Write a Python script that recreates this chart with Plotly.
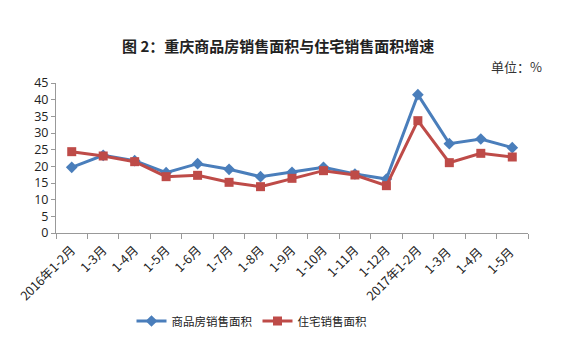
import plotly.graph_objects as go

categories = ["2016年1-2月", "1-3月", "1-4月", "1-5月", "1-6月", "1-7月", "1-8月", "1-9月",
              "1-10月", "1-11月", "1-12月", "2017年1-2月", "1-3月 ", "1-4月 ", "1-5月 "]
commercial = [19.7, 23.3, 21.7, 18.1, 20.8, 19.1, 16.9, 18.2, 19.7, 17.7, 16.2, 41.5, 26.8, 28.2, 25.6]
residential = [24.4, 23.1, 21.4, 16.9, 17.3, 15.2, 13.9, 16.4, 18.7, 17.4, 14.2, 33.7, 21.1, 23.9, 22.8]
y_ticks = [0, 5, 10, 15, 20, 25, 30, 35, 40, 45]

L, R, T, B = 56, 51, 83, 118
W, H = 579, 351
pw = W - L - R
ph = H - T - B


def px(x):
    return (x - L) / pw


def py(y):
    return (H - B - y) / ph


fig = go.Figure()
fig.add_trace(go.Scatter(x=categories, y=commercial, name="商品房销售面积", mode="lines+markers",
                         line=dict(color="#4A7EBB", width=3),
                         marker=dict(symbol="diamond", size=9, color="#4A7EBB")))
fig.add_trace(go.Scatter(x=categories, y=residential, name="住宅销售面积", mode="lines+markers",
                         line=dict(color="#BE4B48", width=3),
                         marker=dict(symbol="square", size=9, color="#BE4B48")))

fig.update_layout(
    width=W, height=H,
    margin=dict(l=L, r=R, t=T, b=B),
    paper_bgcolor="white", plot_bgcolor="white",
    font=dict(family="Noto Sans CJK SC, DejaVu Sans", color="#222"),
    showlegend=True,
    legend=dict(orientation="h", x=px(252), xanchor="center", y=py(321), yanchor="middle",
                font=dict(size=11.5, color="#222"), itemwidth=30),
    xaxis=dict(type="category", range=[-0.5, 14.5], tickangle=-45, tickson="boundaries",
               ticks="outside", ticklen=5, tickcolor="#999", showline=True, linecolor="#999",
               linewidth=1, showgrid=False, tickfont=dict(size=12.5, color="#222"),
               ticklabelstandoff=4),
    yaxis=dict(range=[0, 45], tickvals=y_ticks, ticks="outside", ticklen=4, tickcolor="#999",
               showline=True, linecolor="#999", linewidth=1, showgrid=False, zeroline=False,
               tickfont=dict(size=12.5, color="#222", family="Open Sans")),
    annotations=[
        dict(text="<b>图 2：重庆商品房销售面积与住宅销售面积增速</b>", x=px(278), y=py(33),
             xref="paper", yref="paper", showarrow=False, font=dict(size=15, color="#222")),
        dict(text="单位：%", x=px(544), y=py(55), xref="paper", yref="paper",
             showarrow=False, xanchor="right", font=dict(size=13, color="#333")),
    ],
)
fig.write_html("out.html")
